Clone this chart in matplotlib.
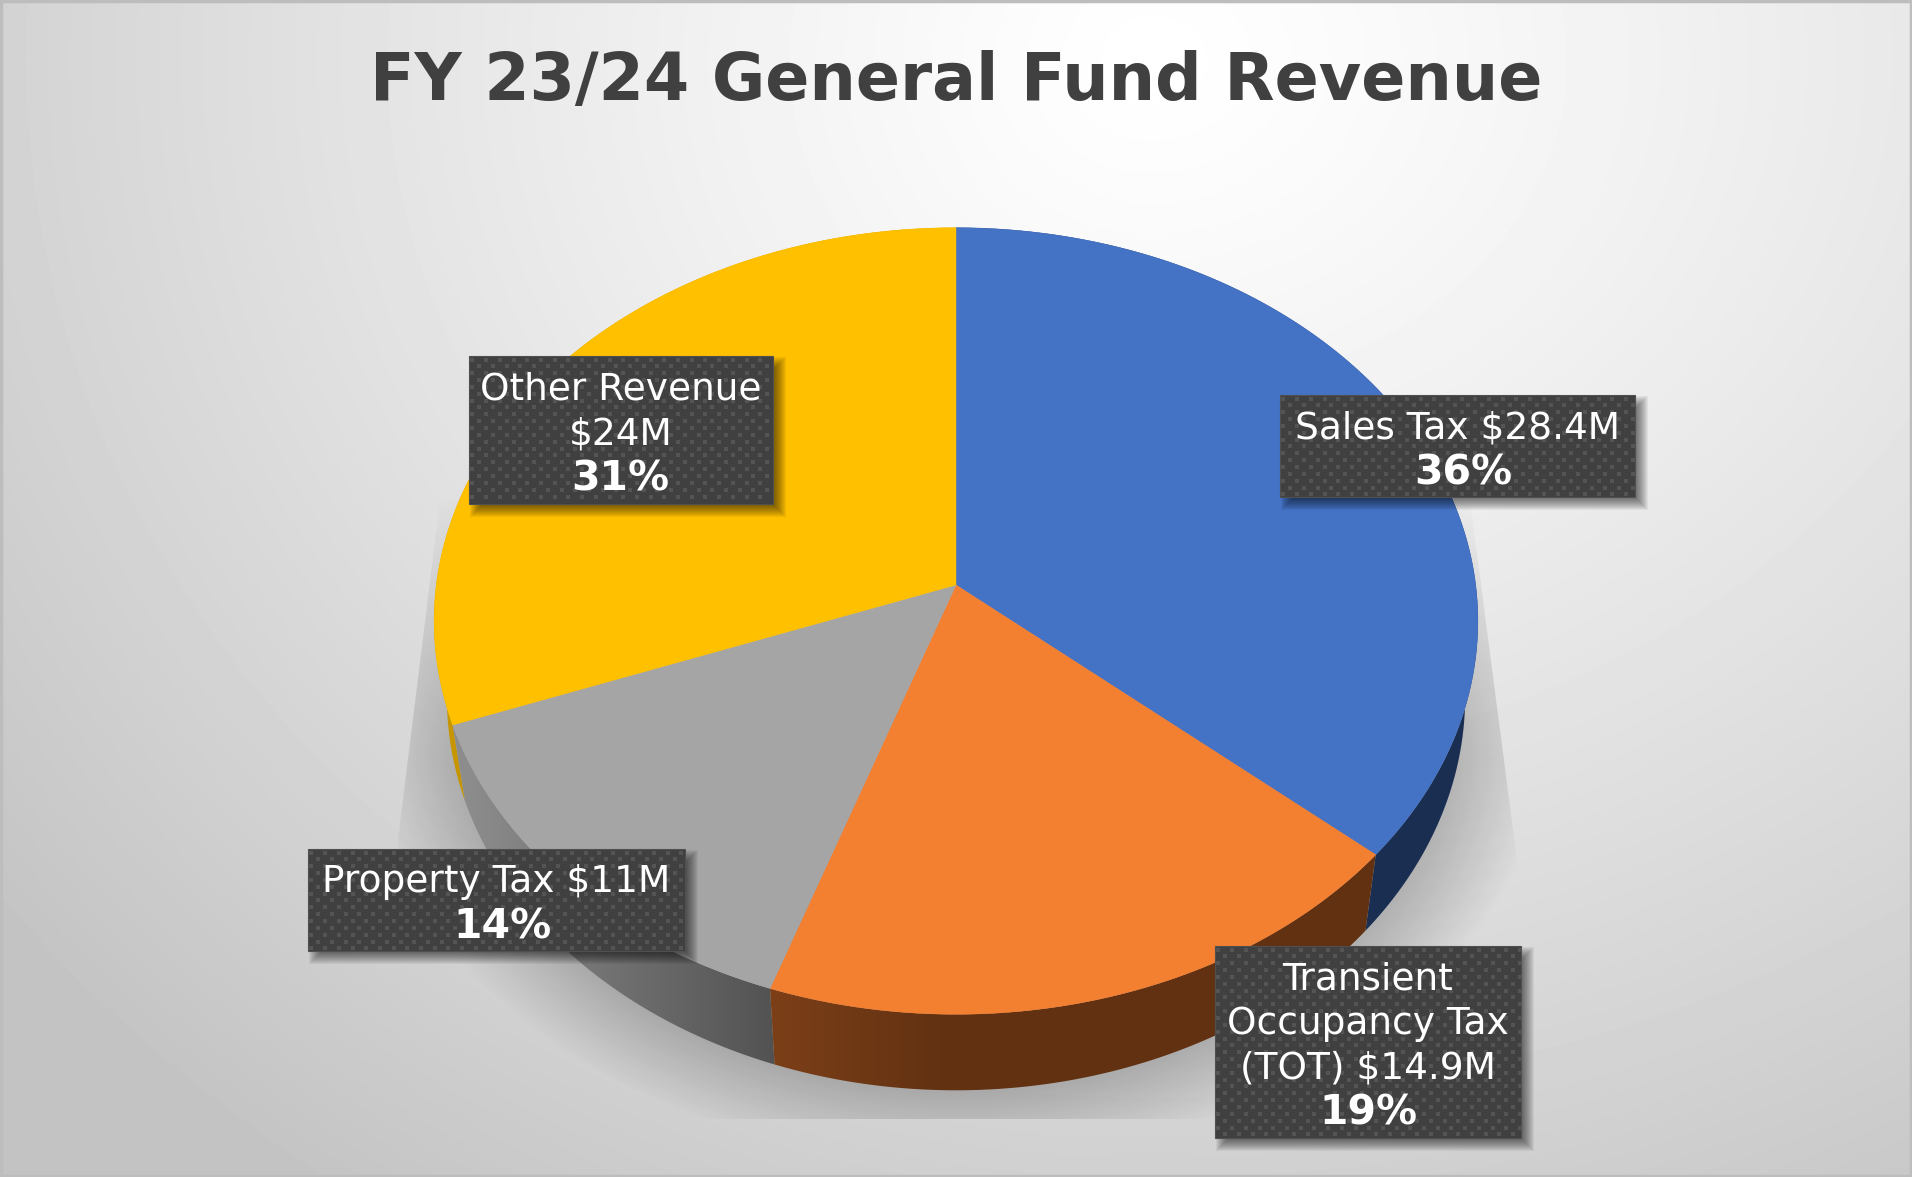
"""
FY 23/24 general fund revenue, 3d pie with perspective
"""

import numpy as np
from matplotlib import pyplot as plt
from matplotlib.colors import to_rgb
from matplotlib.patches import Polygon, Rectangle

# data
categories = ['Sales Tax', 'Transient Occupancy Tax (TOT)', 'Property Tax', 'Other Revenue']
revenue = [28.4, 14.9, 11.0, 24.0]
shares = ['36%', '19%', '14%', '31%']
label_lines = [
    ['Sales Tax $28.4M'],
    ['Transient', 'Occupancy Tax', '(TOT) $14.9M'],
    ['Property Tax $11M'],
    ['Other Revenue', '$24M'],
]
top_colors = ['#4472C4', '#F37F31', '#A5A5A5', '#FFC000']
title = 'FY 23/24 General Fund Revenue'

# label boxes, x0 x1 y0 y1 in pixels
boxes = [(1280, 1635, 395, 497), (1215, 1521, 946, 1138),
         (308, 685, 849, 951), (469, 773, 356, 504)]
share_shift = [6, 0, 6, -1]

W, H = 1912, 1177
CX, CY = 956.0, 585.0      # pie apex
A, C, K = 519.7, 390.0, 0.0915   # perspective of the top face
A2, C2, LOW_Y = 507.0, 390.0, 661.0   # same for the bottom edge
FONT_SIZE = 27.0
BOLD_SIZE = 29.5


def rim(theta, a=A, c=C, y0=CY):
    # theta in radians clockwise from the top of the pie
    d = 1 + K * np.cos(theta)
    return CX + a * np.sin(theta) / d, y0 - c * np.cos(theta) / d


def top_poly(t0, t1):
    t = np.linspace(t0, t1, 200)
    x, y = rim(t)
    return np.column_stack([np.r_[CX, x], np.r_[CY, y]])


def wall_poly(t0, t1):
    t = np.linspace(t0, t1, 200)
    x, y = rim(t)
    x2, y2 = rim(t[::-1], A2, C2, LOW_Y)
    return np.column_stack([np.r_[x, x2], np.r_[y, y2]])


def gradient_fill(ax, poly, c0, c1, x0, x1, zorder):
    # horizontal gradient clipped to a polygon, flat outside x0..x1
    xs = np.clip((np.arange(W) - x0) / (x1 - x0), 0, 1)[:, None]
    img = (np.array(to_rgb(c0))[None, :] * (1 - xs) + np.array(to_rgb(c1))[None, :] * xs)[None, :, :]
    im = ax.imshow(img, extent=(0, W, H, 0), aspect='auto', zorder=zorder)
    patch = Polygon(poly, closed=True, transform=ax.transData, fc='none', ec='none')
    ax.add_patch(patch)
    im.set_clip_path(patch)


def background(ax):
    yy, xx = np.mgrid[0:H, 0:W]
    dx = xx - 1150.0
    rx = np.where(dx < 0, 1300.0, 1500.0)
    r = np.sqrt((dx / rx) ** 2 + ((yy - 60) / 1200.0) ** 2)
    v = 1.0 - 0.2 * r ** 1.2
    v = np.clip(v, 0.765, 1)
    ax.imshow(v, cmap='gray', vmin=0, vmax=1, extent=(0, W, H, 0), aspect='auto', zorder=0)


def pie_shadow(ax):
    yy, xx = np.mgrid[0:H, 0:W]
    r = np.sqrt(((xx - CX) / 507.0) ** 2 + ((yy - 700) / 390.0) ** 2)
    d = np.maximum(r - 1, 0) * 450
    a = 0.2 * np.clip(1 - d / 85.0, 0, 1) * np.clip((yy - 480) / 280.0, 0, 1) ** 0.7
    rgba = np.zeros((H, W, 4))
    rgba[..., 3] = a
    im = ax.imshow(rgba, extent=(0, W, H, 0), aspect='auto', zorder=1)
    clip = Polygon([(440, 500), (1470, 500), (1517, 860), (1517, 1119), (398, 1119), (398, 840)],
                   closed=True, transform=ax.transData, fc='none', ec='none')
    ax.add_patch(clip)
    im.set_clip_path(clip)


def label_box(ax, box, lines, pct, shift):
    x0, x1, y0, y1 = box
    # soft shadow
    for i in range(12):
        ax.add_patch(Rectangle((x0 + 1 + i, y0 + 1 + i), x1 - x0 + 12 - 2 * i, y1 - y0 + 12 - 2 * i,
                               fc='k', ec='none', alpha=0.05, zorder=9))
    ax.add_patch(Rectangle((x0, y0), x1 - x0, y1 - y0, fc='#404040', ec='#505050', lw=0.8, zorder=10))
    px, py = [], []
    row = 0
    y = y0 + 3.5
    while y < y1 - 1:
        x = x0 + 3.5 + (row % 2) * 6.85
        while x < x1 - 1:
            px.append(x)
            py.append(y)
            x += 13.7
        y += 6.85
        row += 1
    ax.scatter(px, py, s=8, marker='s', c='#545454', linewidths=0, zorder=11)
    n = len(lines) + 1
    xc = (x0 + x1) / 2
    yc = (y0 + y1) / 2 + 0.5
    for i, t in enumerate(lines):
        ax.text(xc, yc + (i - (n - 1) / 2) * 44.6, t, color='white', fontsize=FONT_SIZE,
                ha='center', va='center_baseline', zorder=12)
    ax.text(xc + shift, yc + (n - 1) / 2 * 44.6, pct, color='white', fontsize=BOLD_SIZE, fontweight='bold',
            ha='center', va='center_baseline', zorder=12)


if __name__ == '__main__':
    plt.rcParams['font.family'] = ['DejaVu Sans']
    fig = plt.figure(figsize=(W / 100, H / 100), dpi=100)
    ax = fig.add_axes([0, 0, 1, 1])

    background(ax)
    pie_shadow(ax)

    total = sum(revenue)
    edges = np.r_[0, np.cumsum(revenue)] / total * 2 * np.pi

    # side walls, back to front
    ax.add_patch(Polygon(wall_poly(edges[0], edges[1]), closed=True, fc='#1A2E52', ec='none', zorder=3))
    ax.add_patch(Polygon(wall_poly(edges[3], edges[4]), closed=True, fc='#C69500', ec='none', zorder=3))
    gradient_fill(ax, wall_poly(edges[2], edges[3]), '#8C8C8C', '#525252', 470, 775, 4)
    gradient_fill(ax, wall_poly(edges[1], edges[2]), '#7C3F18', '#613112', 772, 950, 5)

    for i in range(len(revenue)):
        ax.add_patch(Polygon(top_poly(edges[i], edges[i + 1]), closed=True,
                             fc=top_colors[i], ec=top_colors[i], lw=0.3, zorder=6))

    for i in range(len(categories)):
        label_box(ax, boxes[i], label_lines[i], shares[i], share_shift[i])

    ax.text(956, 75, title, color='#404040', fontsize=46.9, fontweight='bold',
            ha='center', va='center_baseline', zorder=12)

    # thin darker frame
    ax.add_patch(Rectangle((1, 1), W - 2, H - 2, fc='none', ec='#BDBDBD', lw=2.5, zorder=13))

    ax.set_xlim(0, W)
    ax.set_ylim(H, 0)
    ax.axis('off')
    fig.savefig('out.png', dpi=100)
